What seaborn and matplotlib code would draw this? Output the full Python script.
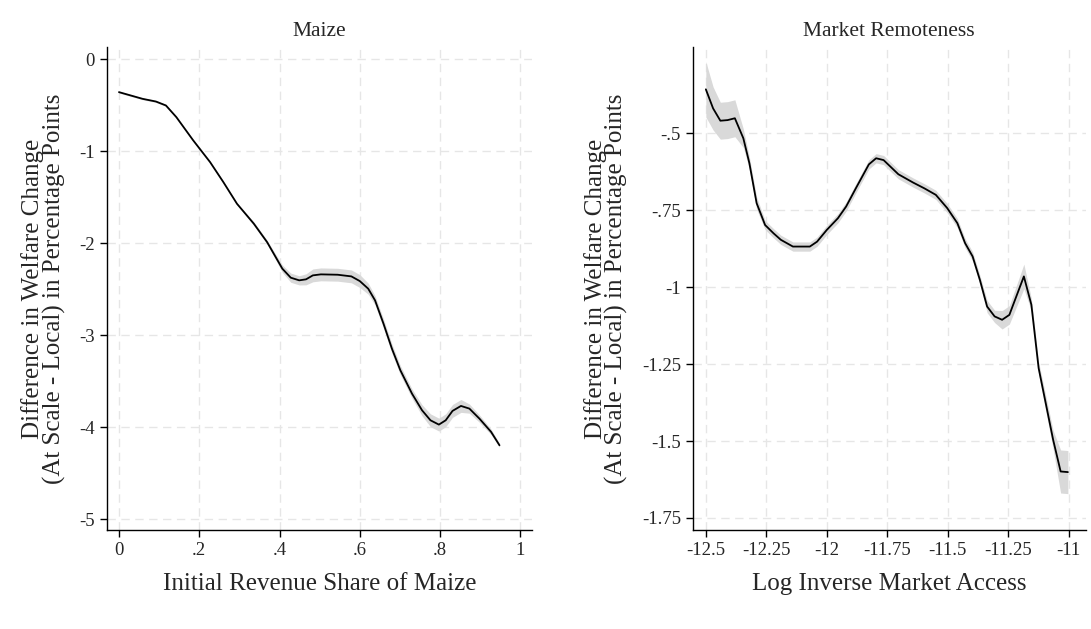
import matplotlib
matplotlib.use("Agg")
import matplotlib.pyplot as plt
import seaborn as sns
import numpy as np
import pandas as pd

maize_x = [0, .059, .092, .117, .143, .185, .227, .26, .294, .336, .369, .407, .428, .449, .466, .483, .503, .545, .579, .6, .621, .638, .659, .68, .701, .73, .755, .776, .797, .814, .831, .852, .873, .898, .927, .948]
maize_y = [-0.355, -0.428, -0.457, -0.5, -0.627, -0.88, -1.116, -1.333, -1.569, -1.786, -1.986, -2.275, -2.373, -2.402, -2.391, -2.348, -2.337, -2.341, -2.359, -2.41, -2.493, -2.62, -2.873, -3.145, -3.38, -3.634, -3.815, -3.924, -3.971, -3.924, -3.822, -3.768, -3.797, -3.906, -4.05, -4.196]
maize_ci = [0.01, 0.01, 0.01, 0.01, 0.01, 0.01, 0.01, 0.01, 0.01, 0.02, 0.02, 0.04, 0.05, 0.05, 0.06, 0.07, 0.07, 0.07, 0.07, 0.07, 0.06, 0.05, 0.05, 0.05, 0.05, 0.05, 0.06, 0.07, 0.07, 0.07, 0.07, 0.07, 0.05, 0.04, 0.03, 0.02]

mkt_x = [-12.5, -12.47, -12.44, -12.41, -12.38, -12.345, -12.32, -12.29, -12.255, -12.22, -12.19, -12.14, -12.07, -12.04, -12.0, -11.954, -11.92, -11.88, -11.826, -11.796, -11.765, -11.704, -11.643, -11.596, -11.549, -11.502, -11.46, -11.428, -11.397, -11.367, -11.337, -11.306, -11.275, -11.245, -11.185, -11.154, -11.124, -11.064, -11.033, -11.003]
mkt_y = [-0.357, -0.419, -0.459, -0.457, -0.451, -0.516, -0.597, -0.727, -0.798, -0.825, -0.846, -0.868, -0.868, -0.852, -0.814, -0.776, -0.738, -0.679, -0.601, -0.581, -0.587, -0.633, -0.66, -0.679, -0.7, -0.743, -0.792, -0.857, -0.9, -0.976, -1.063, -1.095, -1.106, -1.09, -0.965, -1.057, -1.263, -1.496, -1.599, -1.601]
mkt_ci = [0.09, 0.07, 0.06, 0.06, 0.06, 0.03, 0.02, 0.02, 0.015, 0.015, 0.015, 0.015, 0.015, 0.015, 0.015, 0.015, 0.015, 0.015, 0.015, 0.015, 0.015, 0.015, 0.015, 0.015, 0.015, 0.015, 0.015, 0.015, 0.015, 0.015, 0.02, 0.02, 0.03, 0.03, 0.04, 0.02, 0.02, 0.03, 0.07, 0.07]

sns.set_theme(style="white")
plt.rcParams['font.family'] = ['Liberation Serif', 'DejaVu Serif']

fig = plt.figure(figsize=(10.91, 6.29), dpi=100)
ax1 = fig.add_axes([0.098, 0.157, 0.39, 0.768])
ax2 = fig.add_axes([0.635, 0.157, 0.36, 0.768])

ylabel = "Difference in Welfare Change\n(At Scale - Local) in Percentage Points"

def panel(ax, x, y, ci, title, xlabel, xlim, ylim, xt, xtl, yt, ytl):
    x = np.array(x); y = np.array(y); ci = np.array(ci)
    ax.fill_between(x, y - ci, y + ci, color="#d9d9d9", lw=0, zorder=1)
    sns.lineplot(x=x, y=y, ax=ax, color="black", lw=1.3, zorder=2)
    ax.set_xlim(*xlim); ax.set_ylim(*ylim)
    ax.set_xticks(xt); ax.set_xticklabels(xtl)
    ax.set_yticks(yt); ax.set_yticklabels(ytl)
    ax.grid(True, color="#e6e6e6", ls=(0, (6, 4)), lw=1)
    ax.set_axisbelow(True)
    for s in ["top", "right"]:
        ax.spines[s].set_visible(False)
    for s in ["left", "bottom"]:
        ax.spines[s].set_color("black"); ax.spines[s].set_linewidth(1)
    ax.tick_params(axis="both", length=5, width=1, color="black", labelsize=13.5, direction="out", left=True, bottom=True)
    ax.set_title(title, fontsize=15.5, pad=8)
    ax.set_xlabel(xlabel, fontsize=18, labelpad=10)
    ax.set_ylabel(ylabel, fontsize=18, linespacing=0.9, labelpad=10)

panel(ax1, maize_x, maize_y, maize_ci, "Maize", "Initial Revenue Share of Maize",
      (-0.03, 1.03), (-5.12, 0.134),
      [0, .2, .4, .6, .8, 1], ["0", ".2", ".4", ".6", ".8", "1"],
      [0, -1, -2, -3, -4, -5], ["0", "-1", "-2", "-3", "-4", "-5"])
panel(ax2, mkt_x, mkt_y, mkt_ci, "Market Remoteness", "Log Inverse Market Access",
      (-12.554, -10.93), (-1.79, -0.22),
      [-12.5, -12.25, -12, -11.75, -11.5, -11.25, -11], ["-12.5", "-12.25", "-12", "-11.75", "-11.5", "-11.25", "-11"],
      [-0.5, -0.75, -1, -1.25, -1.5, -1.75], ["-.5", "-.75", "-1", "-1.25", "-1.5", "-1.75"])

fig.savefig("out.png", dpi=100, facecolor="white")
